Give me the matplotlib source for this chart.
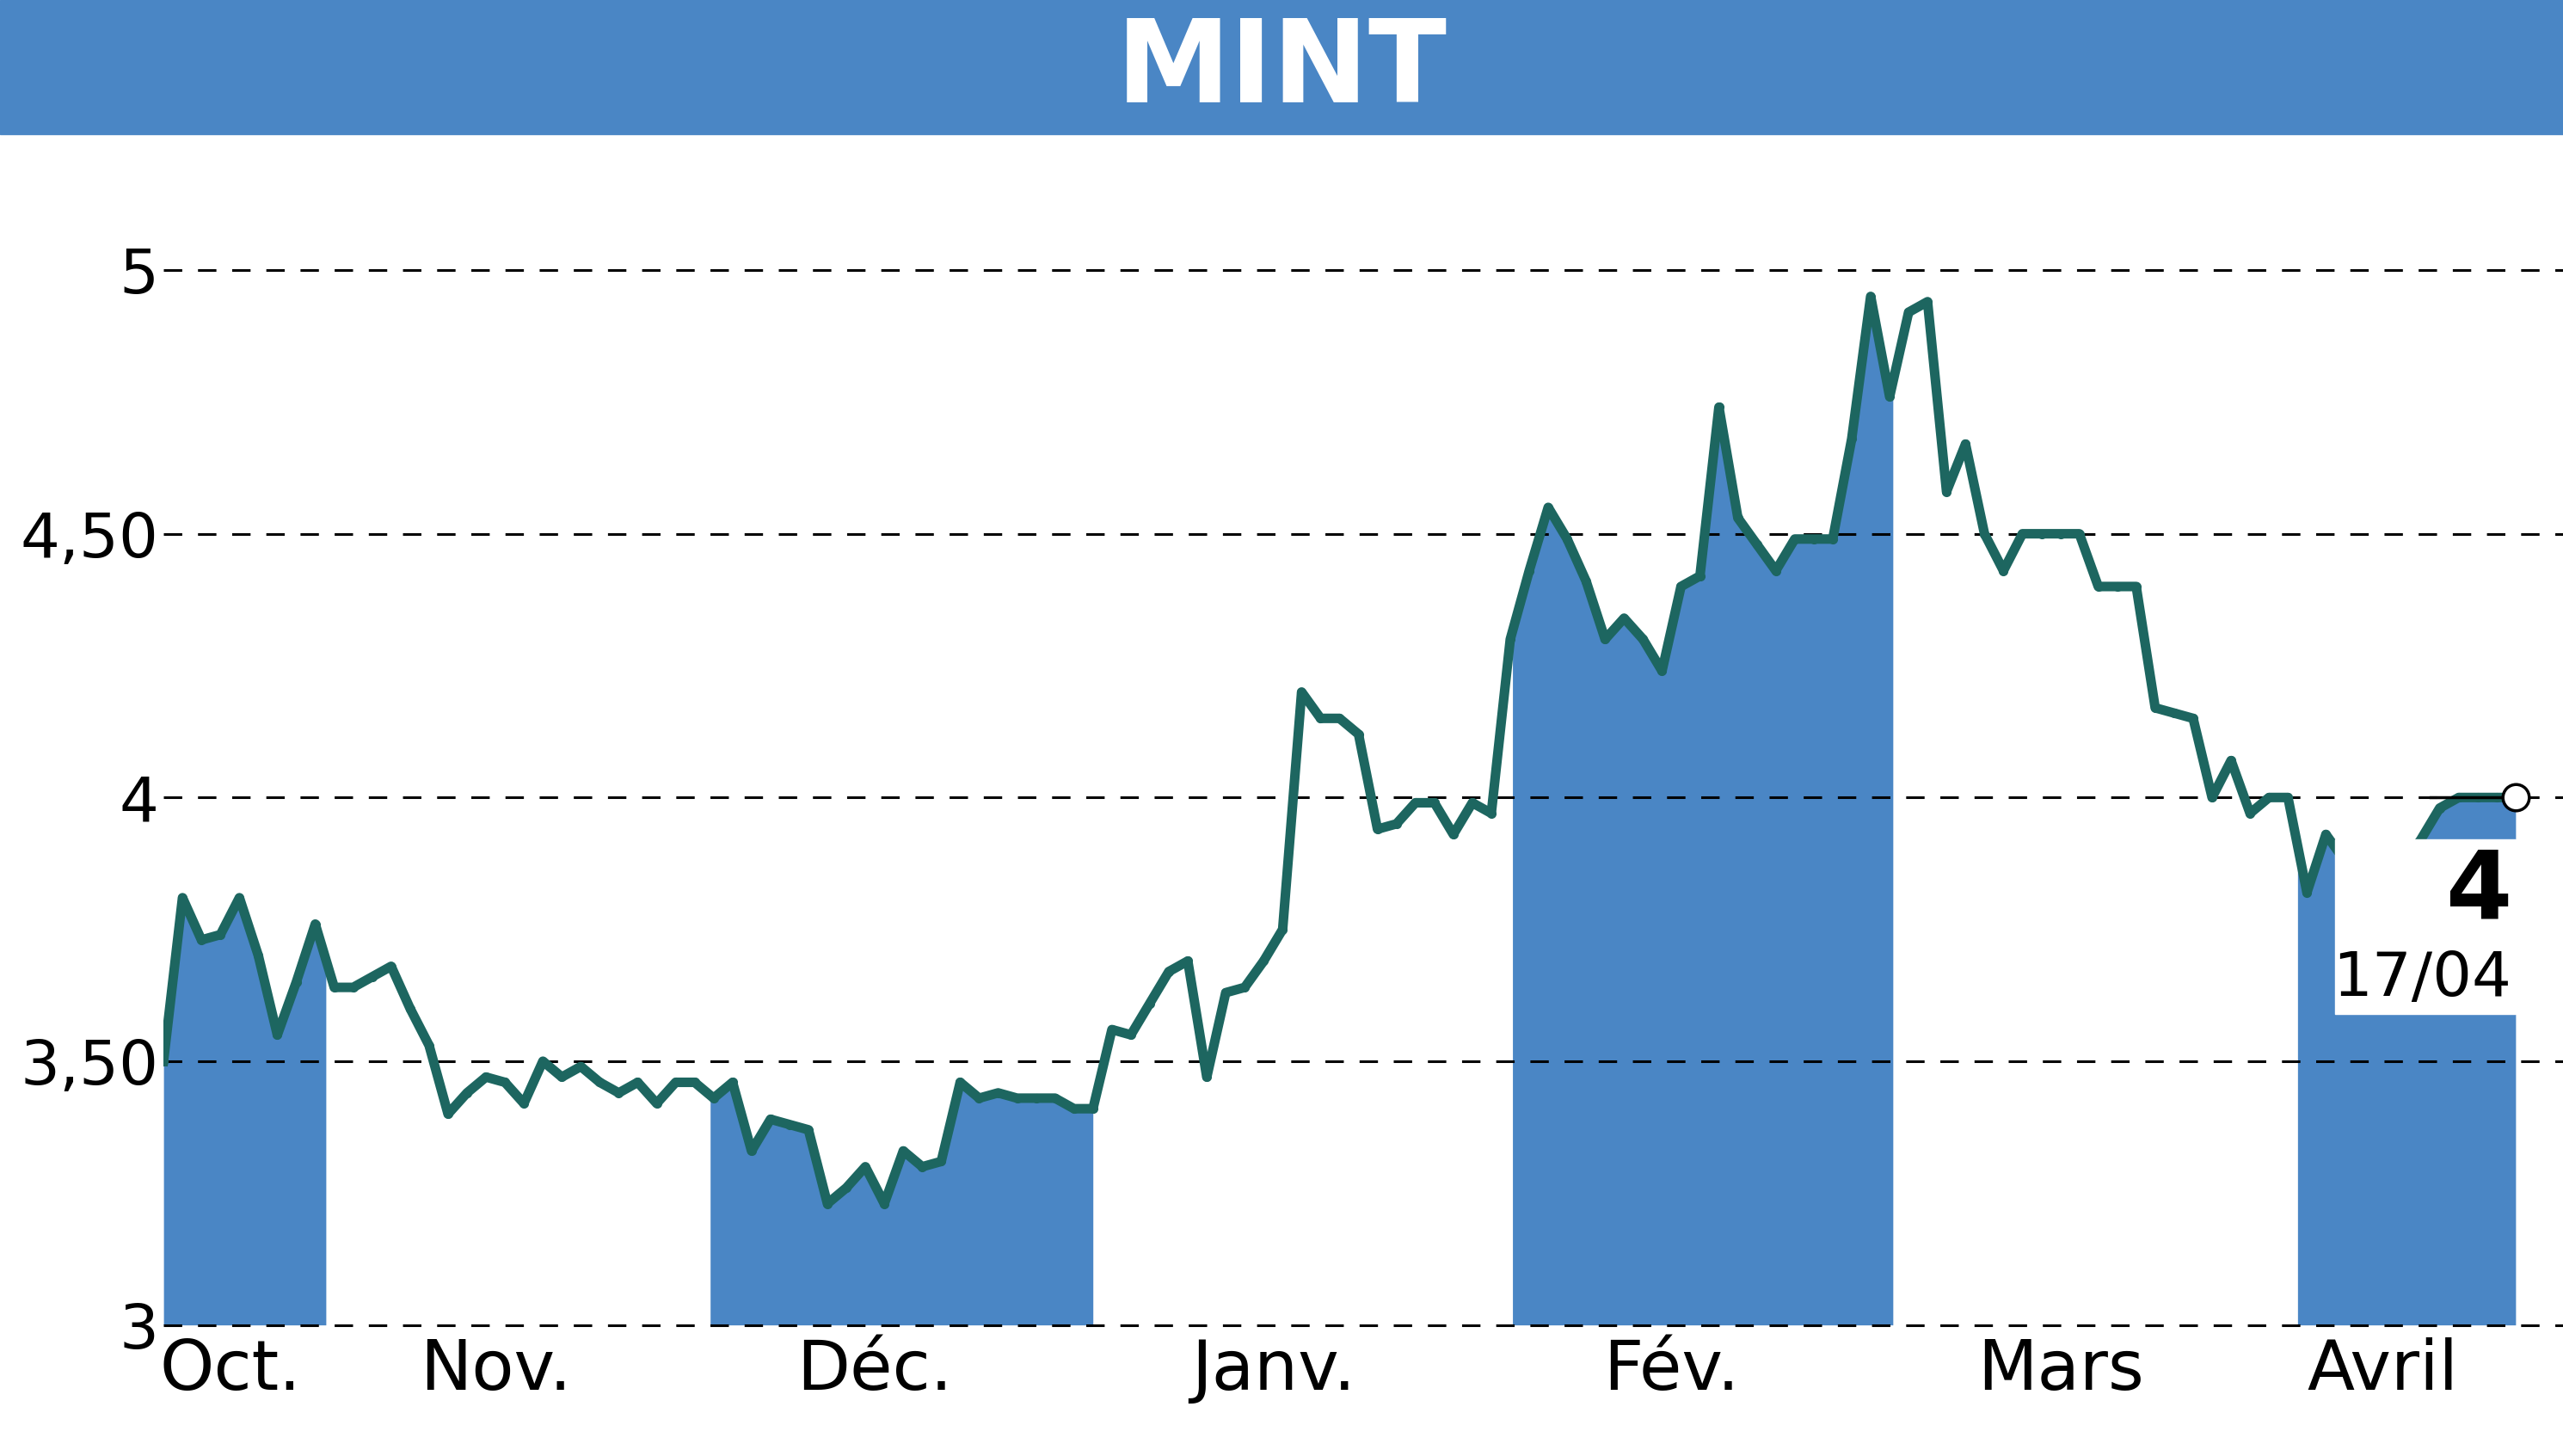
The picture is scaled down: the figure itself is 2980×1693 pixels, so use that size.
import numpy as np
import matplotlib.pyplot as plt
from matplotlib.patches import Rectangle

title = "MINT"
prices = [3.50, 3.81, 3.73, 3.74, 3.81, 3.70, 3.55, 3.65, 3.76, 3.64,
          3.64, 3.66, 3.68, 3.60, 3.53, 3.40, 3.44, 3.47, 3.46, 3.42,
          3.50, 3.47, 3.49, 3.46, 3.44, 3.46, 3.42, 3.46, 3.46, 3.43,
          3.46, 3.33, 3.39, 3.38, 3.37, 3.23, 3.26, 3.30, 3.23, 3.33,
          3.30, 3.31, 3.46, 3.43, 3.44, 3.43, 3.43, 3.43, 3.41, 3.41,
          3.56, 3.55, 3.61, 3.67, 3.69, 3.47, 3.63, 3.64, 3.69, 3.75,
          4.20, 4.15, 4.15, 4.12, 3.94, 3.95, 3.99, 3.99, 3.93, 3.99,
          3.97, 4.30, 4.43, 4.55, 4.49, 4.41, 4.30, 4.34, 4.30, 4.24,
          4.40, 4.42, 4.74, 4.53, 4.48, 4.43, 4.49, 4.49, 4.49, 4.68,
          4.95, 4.76, 4.92, 4.94, 4.58, 4.67, 4.50, 4.43, 4.50, 4.50,
          4.50, 4.50, 4.40, 4.40, 4.40, 4.17, 4.16, 4.15, 4.00, 4.07,
          3.97, 4.00, 4.00, 3.82, 3.93, 3.88, 3.85, 3.85, 3.87, 3.92,
          3.98, 4.00, 4.00, 4.00, 4.00]
months = ["Oct.", "Nov.", "Déc.", "Janv.", "Fév.", "Mars", "Avril"]
month_ticks = [3.5, 17.5, 37.5, 58.5, 79.5, 100.0, 117.0]
shaded = [(0, 8.6), (28.8, 49.0), (71.1, 91.2), (112.5, 124.0)]
yticks = [3, 3.5, 4, 4.5, 5]
ytick_labels = ["3", "3,50", "4", "4,50", "5"]
last_value = "4"
last_date = "17/04"

blue = "#4a86c5"
line_c = "#1d6660"
plt.rcParams['font.family'] = ['Liberation Sans Narrow', 'DejaVu Sans']

fig = plt.figure(figsize=(29.8, 16.93), dpi=100)
fig.patches.append(Rectangle((0, 1 - 82 / 890), 1, 82 / 890, transform=fig.transFigure,
                             color=blue, zorder=0))
fig.text(0.5, 1 - 43 / 890, title, color="white", fontsize=96, fontweight="bold",
         ha="center", va="center")

ax = fig.add_axes([0.0638, 0.09, 1 - 0.0638, 0.797])
x = np.arange(len(prices))
y = np.array(prices)
xf = np.linspace(0, len(prices) - 1, 3000)
yf = np.interp(xf, x, y)
for a, b in shaded:
    m = (xf >= a) & (xf <= b)
    ax.fill_between(xf[m], 3, yf[m], color=blue, lw=0, zorder=1)
ax.plot(x, y, color=line_c, lw=8, marker="o", ms=7, zorder=3)

# label box over the last values
ax.add_patch(Rectangle((114.5, 3.59), 9.5, 0.33, color="white", zorder=4))
ax.text(123.8, 3.82, last_value, fontsize=80, fontweight="bold", ha="right",
        va="center", zorder=5)
ax.text(123.8, 3.655, last_date, fontsize=52, ha="right", va="center", zorder=5)
ax.plot([119.5, 124], [4, 4], color="black", lw=2.5, zorder=5)
ax.plot([124], [4], marker="o", ms=22, mfc="white", mec="black", mew=2.5, zorder=6)

for v in yticks:
    ax.axhline(v, color="black", ls=(0, (7, 6)), lw=2.2, zorder=2, clip_on=False)

ax.set_xlim(0, 126.5)
ax.set_ylim(3, 5.2)
ax.set_yticks(yticks)
ax.set_yticklabels(ytick_labels, fontsize=52)
ax.set_xticks(month_ticks)
ax.set_xticklabels(months, fontsize=58)
ax.tick_params(length=0, pad=10)
for s in ax.spines.values():
    s.set_visible(False)
ax.yaxis.set_tick_params(pad=4)

fig.savefig("out.png", dpi=100)
